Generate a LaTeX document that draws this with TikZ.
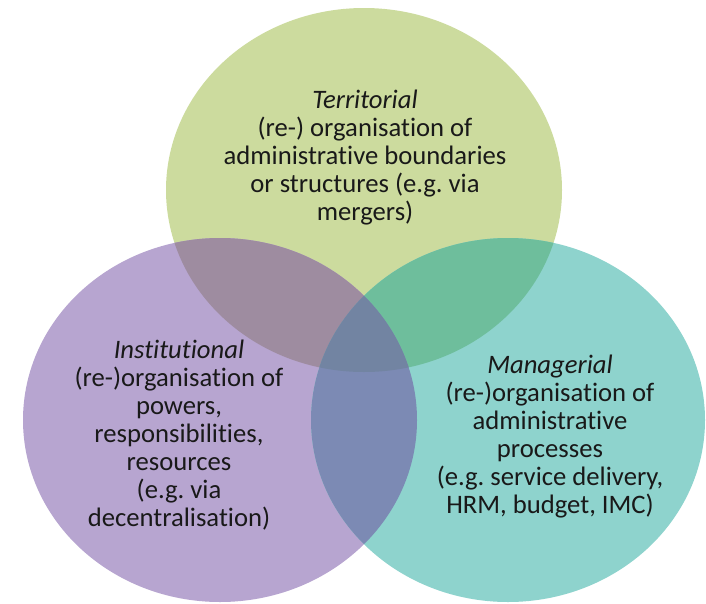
\documentclass[tikz,border=0pt]{standalone}
\usepackage{fontspec}
\setmainfont{Carlito}[Ligatures=NoCommon]
\frenchspacing
\definecolor{terrgreen}{RGB}{204,219,158}
\definecolor{instpurple}{RGB}{183,165,208}
\definecolor{managteal}{RGB}{142,211,205}
\definecolor{terrinst}{RGB}{158,140,160}
\definecolor{terrmanag}{RGB}{110,190,156}
\definecolor{instmanag}{RGB}{124,138,180}
\definecolor{allthree}{RGB}{114,132,162}
\tikzset{venntext/.style={align=center,font=\fontsize{20}{21}\selectfont,text=black!90}}
\begin{document}
\begin{tikzpicture}[x=0.75pt,y=0.75pt,yscale=-1,xscale=1]
\useasboundingbox (0,0) rectangle (706,603);

%Shape: Ellipse [id:territorial]
\fill[terrgreen] (364,190) ellipse (198 and 182);
%Shape: Ellipse [id:institutional]
\fill[instpurple] (220,420) ellipse (197 and 182);
%Shape: Ellipse [id:managerial]
\fill[managteal] (508,420) ellipse (197 and 182);

%Overlap territorial / institutional
\begin{scope}
\clip (364,190) ellipse (198 and 182);
\fill[terrinst] (220,420) ellipse (197 and 182);
\end{scope}
%Overlap territorial / managerial
\begin{scope}
\clip (364,190) ellipse (198 and 182);
\fill[terrmanag] (508,420) ellipse (197 and 182);
\end{scope}
%Overlap institutional / managerial
\begin{scope}
\clip (220,420) ellipse (197 and 182);
\fill[instmanag] (508,420) ellipse (197 and 182);
\end{scope}
%Overlap of all three
\begin{scope}
\clip (364,190) ellipse (198 and 182);
\clip (220,420) ellipse (197 and 182);
\fill[allthree] (508,420) ellipse (197 and 182);
\end{scope}

%Text
\node[venntext] (terr) at (365,158) {\textit{Territorial}\\(re-) organisation of\\administrative boundaries\\or structures (e.g. via\\mergers)};
\node[venntext] (inst) at (179,435) {\textit{Institutional}\\(re-)organisation of\\powers,\\responsibilities,\\resources\\(e.g. via\\decentralisation)};
\node[venntext] (manag) at (550,437) {\textit{Managerial}\\(re-)organisation of\\administrative\\processes\\(e.g. service delivery,\\HRM, budget, IMC)};

\end{tikzpicture}
\end{document}
